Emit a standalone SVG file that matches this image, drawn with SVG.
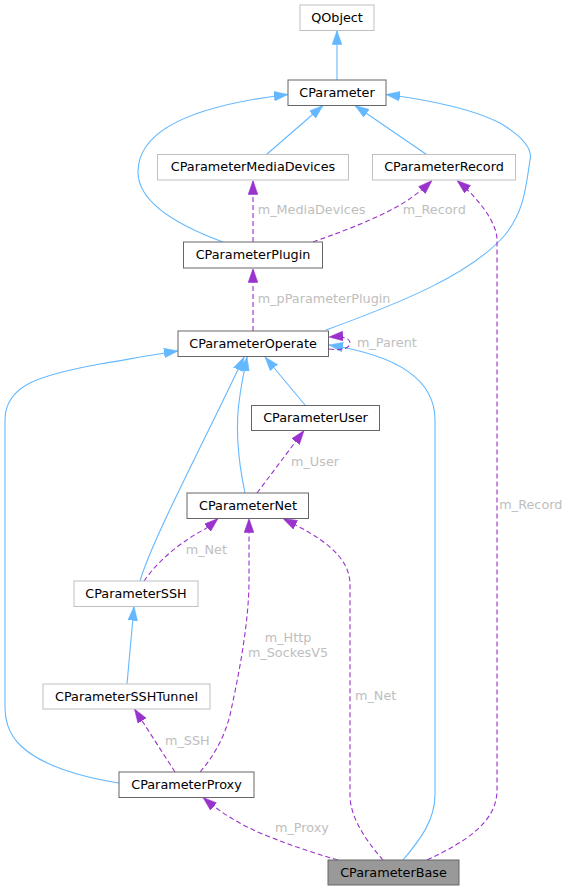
<svg xmlns="http://www.w3.org/2000/svg" width="572" height="891" viewBox="0 0 572 891">
<style>
.n rect{fill:#fff;stroke-width:1}
.d rect{stroke:#666666}
.u rect{stroke:#bfbfbf}
.b rect{fill:#999999;stroke:#666666}
.n text{font-family:"DejaVu Sans",sans-serif;font-size:12.8px;fill:#000;text-anchor:middle}
.inh{fill:none;stroke:#63b8ff;stroke-width:1.1}
.use{fill:none;stroke:#9a32cd;stroke-width:1.1;stroke-dasharray:5,3}
.lbl{font-family:"DejaVu Sans",sans-serif;font-size:12.8px;fill:#bebebe}
</style>
<defs>
<marker id="ab" markerUnits="userSpaceOnUse" markerWidth="14" markerHeight="10" viewBox="0 0 13 9" refX="13" refY="4.5" orient="auto">
<path d="M0,0 L13,4.5 L0,9 z" fill="#63b8ff" stroke="#63b8ff" stroke-width="0.5"/>
</marker>
<marker id="ap" markerUnits="userSpaceOnUse" markerWidth="14" markerHeight="10" viewBox="0 0 13 9" refX="13" refY="4.5" orient="auto">
<path d="M0,0 L13,4.5 L0,9 z" fill="#9a32cd" stroke="#9a32cd" stroke-width="0.5"/>
</marker>
</defs>
<rect width="572" height="891" fill="#fff"/>
<g id="connectors">
<path class="inh" marker-end="url(#ab)" d="M337,80 V30.5"/>
<path class="inh" marker-end="url(#ab)" d="M266.5,154.5 L323,105.5"/>
<path class="inh" marker-end="url(#ab)" d="M426.5,154.5 L355,105.5"/>
<path class="inh" marker-end="url(#ab)" d="M223,242 C185,228 138,205 138,172 C138,122 215,103 288,94.5"/>
<path class="inh" marker-end="url(#ab)" d="M326,330 C400,303 470,275 505,235 C525,210 526,185 530,160 C533,148 520,135 500,123 C470,108 430,100 386,94.5"/>
<path class="inh" marker-end="url(#ab)" d="M305,405 L265,357"/>
<path class="inh" marker-end="url(#ab)" d="M245,493 C238,460 235,425 240,395 C242,380 245,368 247,357"/>
<path class="inh" marker-end="url(#ab)" d="M140,581 C152,540 200,450 244,357"/>
<path class="inh" marker-end="url(#ab)" d="M119,783 C80,777 40,765 20,745 C8,733 5,720 5,705 V420 C5,385 40,375 100,364 C125,360 150,355 178,351"/>
<path class="inh" marker-end="url(#ab)" d="M403,860 C420,840 435,820 435,795 V420 C435,378 395,355 329,345"/>
<path class="inh" marker-end="url(#ab)" d="M127,684 L134,606.5"/>

<path class="use" marker-end="url(#ap)" d="M253,242 V180.5"/>
<path class="use" marker-end="url(#ap)" d="M313,242 C335,234 370,222 400,205 C412,198 422,190 432,180.5"/>
<path class="use" marker-end="url(#ap)" d="M253,331 V268.5"/>
<path class="use" marker-end="url(#ap)" d="M329,349 C342,351 350,348 350,343 C350,338 343,336 329,337"/>
<path class="use" marker-end="url(#ap)" d="M257,493 L304,430.5"/>
<path class="use" marker-end="url(#ap)" d="M144,581 C155,565 175,545 205,529 C210,526 214,522 218,518.5"/>
<path class="use" marker-end="url(#ap)" d="M200,772 C215,755 225,735 230,715 C240,670 249,620 249,580 V518.5"/>
<path class="use" marker-end="url(#ap)" d="M383,860 C370,845 350,820 350,795 V585 C350,555 320,537 283,518.5"/>
<path class="use" marker-end="url(#ap)" d="M175,772 L134.5,709"/>
<path class="use" marker-end="url(#ap)" d="M338,860 C310,852 290,845 265,835 C240,825 220,812 203,797.5"/>
<path class="use" marker-end="url(#ap)" d="M427,860 C470,840 497,820 497,790 V240 C497,222 478,198 457,180.5"/>
</g>
<g id="labels">
<text class="lbl" x="257.7" y="214">m_MediaDevices</text>
<text class="lbl" x="402.7" y="214">m_Record</text>
<text class="lbl" x="257.7" y="303">m_pParameterPlugin</text>
<text class="lbl" x="357" y="347">m_Parent</text>
<text class="lbl" x="291" y="466">m_User</text>
<text class="lbl" x="185.7" y="553.5">m_Net</text>
<text class="lbl" x="288" y="642" text-anchor="middle">m_Http</text>
<text class="lbl" x="288" y="656.5" text-anchor="middle">m_SockesV5</text>
<text class="lbl" x="355" y="700">m_Net</text>
<text class="lbl" x="165" y="744.5">m_SSH</text>
<text class="lbl" x="275" y="832">m_Proxy</text>
<text class="lbl" x="499.3" y="508.5">m_Record</text>
</g>
<g id="QObject" class="n u"><rect x="300" y="5" width="74" height="25.5"/><text x="337" y="21.5">QObject</text></g>
<g id="CParameter" class="n d"><rect x="288" y="80" width="98" height="25.5"/><text x="337" y="96.5">CParameter</text></g>
<g id="CParameterMediaDevices" class="n u"><rect x="157.5" y="154.5" width="191" height="25.5"/><text x="253" y="171">CParameterMediaDevices</text></g>
<g id="CParameterRecord" class="n u"><rect x="372.5" y="154.5" width="143" height="25.5"/><text x="444" y="171">CParameterRecord</text></g>
<g id="CParameterPlugin" class="n d"><rect x="183.5" y="242" width="139" height="26"/><text x="253" y="258.5">CParameterPlugin</text></g>
<g id="CParameterOperate" class="n d"><rect x="178" y="331" width="150.5" height="25.5"/><text x="253" y="347.5">CParameterOperate</text></g>
<g id="CParameterUser" class="n d"><rect x="251.5" y="405.5" width="128" height="25"/><text x="315.5" y="422">CParameterUser</text></g>
<g id="CParameterNet" class="n d"><rect x="187" y="493" width="121.5" height="25.5"/><text x="248" y="509.5">CParameterNet</text></g>
<g id="CParameterSSH" class="n u"><rect x="74" y="581" width="124" height="25.5"/><text x="136" y="597.5">CParameterSSH</text></g>
<g id="CParameterSSHTunnel" class="n u"><rect x="43" y="684" width="167" height="25"/><text x="126.5" y="700.5">CParameterSSHTunnel</text></g>
<g id="CParameterProxy" class="n d"><rect x="119" y="772" width="135" height="25.5"/><text x="186.5" y="788.5">CParameterProxy</text></g>
<g id="CParameterBase" class="n b"><rect x="328" y="860" width="131" height="25"/><text x="393.5" y="876.5">CParameterBase</text></g>
</svg>
